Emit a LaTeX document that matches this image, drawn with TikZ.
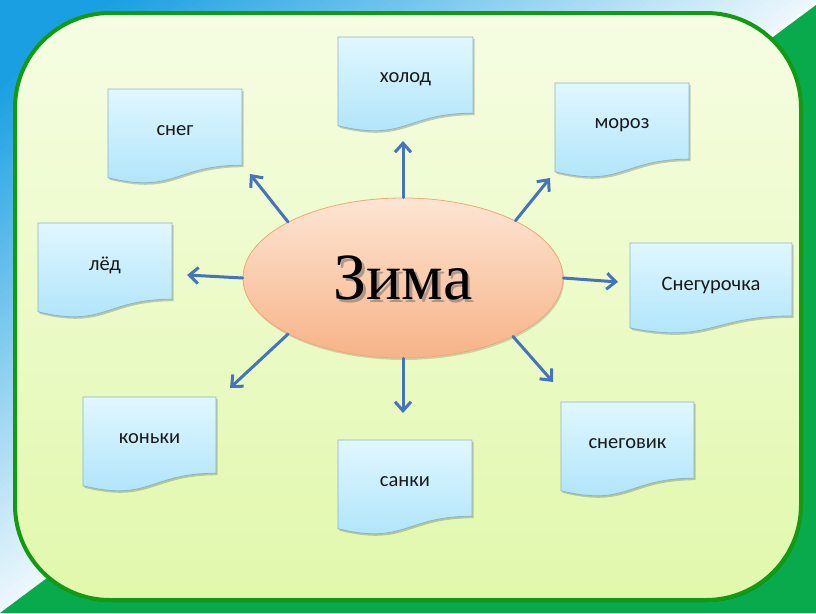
\documentclass[tikz,border=0pt]{standalone}
\usepackage{fontspec}
\setmainfont{Carlito}
\newfontfamily\zimafont{Liberation Serif}
\usetikzlibrary{shapes.geometric,arrows.meta,shadows}
\definecolor{bgblue}{HTML}{1AA0E2}
\definecolor{bggreen}{HTML}{08AA4C}
\definecolor{panelborder}{HTML}{129B12}
\definecolor{paneltop}{HTML}{F6FDE3}
\definecolor{panelbot}{HTML}{E1F8AC}
\definecolor{boxtop}{HTML}{E0F7FF}
\definecolor{boxbot}{HTML}{ACE3FA}
\definecolor{boxborder}{HTML}{8DB3C6}
\definecolor{elltop}{HTML}{FDE5D3}
\definecolor{ellbot}{HTML}{F7B388}
\definecolor{ellborder}{HTML}{EFA778}
\definecolor{arrowblue}{HTML}{4673BA}
\tikzset{
  docbox/.style={draw=boxborder, line width=0.8pt, top color=boxtop, bottom color=boxbot,
    drop shadow={shadow xshift=1.5pt, shadow yshift=-2pt, opacity=0.2, fill=black}},
  doctext/.style={font=\fontsize{20.5}{24}\selectfont, text=black!90, inner sep=0pt},
  spoke/.style={draw=arrowblue, line width=3pt, line cap=round,
    -{Straight Barb[length=9pt,width=16pt]}},
  zimatext/.style={font=\zimafont\fontsize{66}{70}\selectfont, inner sep=0pt}
}
\newcommand{\mydocbox}[6]{%
  \begin{scope}[shift={(#2,#3)}]
    \pgfmathsetmacro\bw{#4}\pgfmathsetmacro\bh{#5}%
    \pgfmathsetmacro\ra{0.802*\bh}\pgfmathsetmacro\rb{1.107*\bh}%
    \pgfmathsetmacro\rl{0.934*\bh}\pgfmathsetmacro\mx{0.5*\bw}%
    \path[docbox] (0,0) -- (\bw,0) -- (\bw,\ra) .. controls (\mx,\ra) and (\mx,\rb) .. (0,\rl) -- cycle;
    \node[doctext] (#1) at (\mx,42) {#6};
  \end{scope}}
\begin{document}
\begin{tikzpicture}[x=1pt,y=-1pt]
\useasboundingbox (0,0) rectangle (816,613);
% background
\fill[white] (0,0) rectangle (816,613);
\begin{scope}
  \clip (0,0) -- (816,0) -- (816,5) -- (0,613) -- cycle;
  \begin{scope}[shift={(408,306.5)}, rotate=36.87]
    \foreach \d in {0,5,...,600} {
      \pgfmathsetmacro\p{min(100,8+\d/420*92)}
      \fill[bgblue!\p!white] (-800,-\d+0.5) rectangle (800,-\d-5.5);
    }
  \end{scope}
\end{scope}
\fill[bggreen] (816,5) -- (816,613) -- (0,613) -- cycle;
% panel
\draw[line width=4pt, draw=panelborder, top color=paneltop, bottom color=panelbot,
  rounded corners=95pt, drop shadow={shadow xshift=1pt, shadow yshift=-2pt, opacity=0.3, fill=black}]
  (15,13) rectangle (801,600);
% boxes
\mydocbox{snow}{108}{89}{134}{95}{снег}
\mydocbox{cold}{338}{37}{135}{95}{холод}
\mydocbox{frost}{555}{83}{134}{95}{мороз}
\mydocbox{ice}{38}{223}{134}{95}{лёд}
\mydocbox{maiden}{630}{243}{162}{91}{Снегурочка}
\mydocbox{skates}{83}{397}{133}{95}{коньки}
\mydocbox{sled}{338}{440}{134}{95}{санки}
\mydocbox{snowman}{561}{402}{133}{95}{снеговик}
% centre
\node[ellipse, draw=ellborder, line width=0.8pt, top color=elltop, bottom color=ellbot,
  minimum width=320pt, minimum height=160pt, inner sep=0pt,
  drop shadow={shadow xshift=1pt, shadow yshift=-2pt, opacity=0.15, fill=black}] (z) at (403,278) {};
\node[zimatext, text=black!60, opacity=0.5] (zshadow) at (405.5,280.5) {Зима};
\node[zimatext, text=black] (ztext) at (403,278) {Зима};
% arrow tips
\coordinate (tUp) at (403,141);
\coordinate (tUL) at (250,174);
\coordinate (tUR) at (550,178);
\coordinate (tL) at (187,275);
\coordinate (tR) at (618,282);
\coordinate (tDL) at (230,388);
\coordinate (tD) at (403,413);
\coordinate (tDR) at (553,382);
\draw[spoke] (z.north) -- (tUp);
\draw[spoke] (z.154) -- (tUL);
\draw[spoke] (z.27.4) -- (tUR);
\draw[spoke] (z.west) -- (tL);
\draw[spoke] (z.east) -- (tR);
\draw[spoke] (z.206.8) -- (tDL);
\draw[spoke] (z.south) -- (tD);
\draw[spoke] (z.332.6) -- (tDR);
\end{tikzpicture}
\end{document}
